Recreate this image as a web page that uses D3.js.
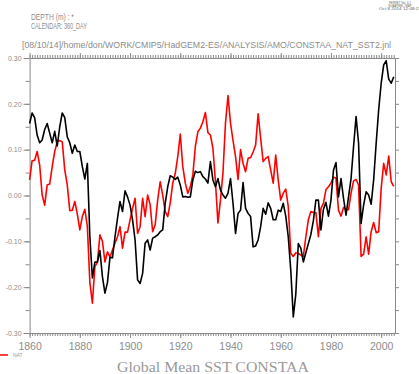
<!DOCTYPE html>
<html><head><meta charset="utf-8">
<script src="https://cdn.jsdelivr.net/npm/d3@7"></script>
<style>html,body{margin:0;padding:0;background:#fff;}svg{display:block;}</style>
</head><body>
<svg id="c" width="419" height="374"></svg>
<script>
const years = d3.range(1860, 2006);
const allForcing = [0.157,0.18,0.17,0.132,0.115,0.121,0.144,0.157,0.136,0.115,
0.14,0.108,0.15,0.18,0.17,0.128,0.115,0.092,0.11,0.096,
0.096,0.063,0.036,0.07,-0.09,-0.18,-0.145,-0.145,-0.12,-0.177,
-0.213,-0.19,-0.135,-0.136,-0.09,-0.05,-0.013,-0.035,0.01,-0.003,
-0.021,-0.053,-0.097,-0.184,-0.192,-0.17,-0.104,-0.097,-0.119,-0.093,
-0.09,-0.086,-0.079,-0.075,-0.017,0.019,0.043,0.04,0.035,0.04,
0.023,-0.003,-0.002,-0.004,-0.003,0.034,0.053,0.05,0.052,0.041,
0.036,0.027,0.074,0.034,0.019,0.037,0.012,0.001,-0.006,0.005,
0.037,-0.017,-0.083,-0.039,-0.032,0.028,-0.028,-0.039,-0.046,-0.112,
-0.11,-0.097,-0.068,-0.028,-0.041,-0.016,-0.028,-0.053,-0.053,-0.032,
-0.035,-0.017,-0.045,-0.09,-0.163,-0.265,-0.215,-0.105,-0.115,-0.145,
-0.125,-0.105,-0.085,-0.055,-0.01,-0.01,-0.075,-0.03,-0.015,-0.045,
-0.01,0.055,0.072,-0.003,0.037,-0.006,-0.043,-0.003,0.037,0.107,
0.172,0.114,-0.061,-0.021,0.008,0.001,-0.019,0.034,0.114,0.187,
0.245,0.285,0.294,0.254,0.245,0.259];
const nat = [0.034,0.076,0.077,0.096,0.067,0.001,-0.021,0.023,0.025,0.063,
0.096,0.117,0.12,0.117,0.056,0.023,-0.033,-0.032,-0.013,-0.04,
-0.075,-0.046,-0.03,-0.068,-0.19,-0.235,-0.155,-0.146,-0.086,-0.1,
-0.145,-0.123,-0.134,-0.119,-0.104,-0.09,-0.068,-0.115,-0.08,-0.08,
-0.053,-0.028,-0.006,-0.083,-0.068,-0.006,-0.046,0.001,-0.02,-0.079,
-0.064,-0.01,0.03,0.001,-0.035,-0.046,-0.016,0.027,0.048,0.085,
0.134,0.063,0.027,0.005,0.019,0.045,0.107,0.139,0.147,0.161,
0.181,0.137,0.132,0.103,0.03,-0.06,-0.01,0.05,0.158,0.218,
0.158,0.12,0.085,0.035,0.1,0.07,0.052,0.081,0.083,0.095,
0.11,0.178,0.125,0.074,0.081,0.085,0.056,0.027,0.088,0.034,
-0.01,0.005,0.014,-0.024,-0.126,-0.133,-0.125,-0.126,-0.13,-0.133,
-0.09,-0.053,-0.035,-0.037,-0.037,-0.09,-0.028,-0.017,0.013,0.019,
0.027,0.04,0.038,-0.032,-0.045,-0.026,-0.03,-0.031,0.005,0.032,
0.035,0.023,-0.133,-0.128,-0.09,-0.128,-0.079,-0.059,-0.081,-0.079,
0.016,0.07,0.045,0.086,0.03,0.02];
const xTickLabels = [1860,1880,1900,1920,1940,1960,1980,2000];
const yTickLabels = [-0.3,-0.2,-0.1,0,0.1,0.2,0.3];
const yMinorTicks = [-0.3,-0.25,-0.2,-0.15,-0.1,-0.05,0,0.05,0.1,0.15,0.2,0.25,0.3];
const headerLines = ["DEPTH (m) : *","CALENDAR: 360_DAY"];
const pathLine = "[08/10/14]/home/don/WORK/CMIP5/HadGEM2-ES/ANALYSIS/AMO/CONSTAA_NAT_SST2.jnl";
const stampLines = ["FERRET Ver. 6.1","NOAA/PMEL TMAP","Oct  8 2014 12:48:25"];
const title = "Global Mean SST CONSTAA";
const legendLabel = "NAT";

const svg = d3.select("#c");
const L = 29.6, R = 395, T = 58, B = 333;
const x = d3.scaleLinear().domain([1860, 2005.5]).range([L, R]);
const y = d3.scaleLinear().domain([-0.3, 0.3]).range([B, T]);
const axisCol = "#8a8a8a", textCol = "#8c8c8c";
const hf = "Liberation Sans, Arial, sans-serif";

function style(g){ g.selectAll("path,line").attr("stroke", axisCol).attr("stroke-width",1); g.selectAll("text").attr("fill", textCol); }

svg.append("g").attr("transform",`translate(0,${B})`).call(d3.axisBottom(x).tickValues(years).tickSize(3).tickSizeOuter(0).tickFormat("")).call(style);
svg.append("g").attr("transform",`translate(0,${T})`).call(d3.axisTop(x).tickValues(years).tickSize(3).tickSizeOuter(0).tickFormat("")).call(style);
svg.append("g").attr("transform",`translate(0,${B})`).call(d3.axisBottom(x).tickValues(xTickLabels).tickSize(5).tickSizeOuter(0).tickPadding(5).tickFormat(d3.format("d")))
  .call(style).call(g=>g.select(".domain").remove()).selectAll("text").attr("font-family",hf).attr("font-size","10.5px");
svg.append("g").attr("transform",`translate(0,${T})`).call(d3.axisTop(x).tickValues(xTickLabels).tickSize(5).tickSizeOuter(0).tickFormat(""))
  .call(style).call(g=>g.select(".domain").remove());
svg.append("g").attr("transform",`translate(${L},0)`).call(d3.axisLeft(y).tickValues(yMinorTicks).tickSize(4).tickSizeOuter(0).tickFormat("")).call(style);
svg.append("g").attr("transform",`translate(${L},0)`).call(d3.axisLeft(y).tickValues(yTickLabels).tickSize(6).tickSizeOuter(0).tickPadding(2).tickFormat(d=>d.toFixed(2)))
  .call(style).call(g=>g.select(".domain").remove()).selectAll("text").attr("font-family",hf).attr("font-size","7px");
svg.append("g").attr("transform",`translate(${R},0)`).call(d3.axisRight(y).tickValues(yMinorTicks).tickSize(4).tickSizeOuter(0).tickFormat("")).call(style);

const line = d3.line().x((d,i)=>x(years[i])).y(d=>y(d));
svg.append("path").datum(nat).attr("d",line).attr("fill","none").attr("stroke","#ff0000").attr("stroke-width",1.6).attr("stroke-linejoin","round");
svg.append("path").datum(allForcing).attr("d",line).attr("fill","none").attr("stroke","#000").attr("stroke-width",1.6).attr("stroke-linejoin","round");

svg.append("text").attr("x",31).attr("y",20).attr("font-family",hf).attr("font-size","8.5px").attr("fill",textCol).attr("textLength",43).attr("lengthAdjust","spacingAndGlyphs").text(headerLines[0]);
svg.append("text").attr("x",31).attr("y",28.5).attr("font-family",hf).attr("font-size","8.5px").attr("fill",textCol).attr("textLength",56).attr("lengthAdjust","spacingAndGlyphs").text(headerLines[1]);
svg.append("text").attr("x",22).attr("y",48).attr("font-family",hf).attr("font-size","9px").attr("fill",textCol).attr("textLength",369).attr("lengthAdjust","spacingAndGlyphs").text(pathLine);
const stampW = [22, 23, 42];
stampLines.forEach((s,i)=>{
  svg.append("text").attr("x",400).attr("y",3.5+i*3.2).attr("text-anchor","middle").attr("font-family",hf).attr("font-size","3.4px").attr("fill","#666").attr("textLength",stampW[i]).attr("lengthAdjust","spacingAndGlyphs").text(s);
});
svg.append("text").attr("x",117).attr("y",372).attr("font-family","Liberation Serif, DejaVu Serif, serif").attr("font-size","15px").attr("fill","#999").attr("textLength",192).attr("lengthAdjust","spacingAndGlyphs").text(title);
svg.append("line").attr("x1",0).attr("x2",8).attr("y1",355).attr("y2",355).attr("stroke","#ff0000").attr("stroke-width",1.5);
svg.append("text").attr("x",13).attr("y",357).attr("font-family",hf).attr("font-size","5px").attr("fill","#999").text(legendLabel);
</script>
</body></html>
